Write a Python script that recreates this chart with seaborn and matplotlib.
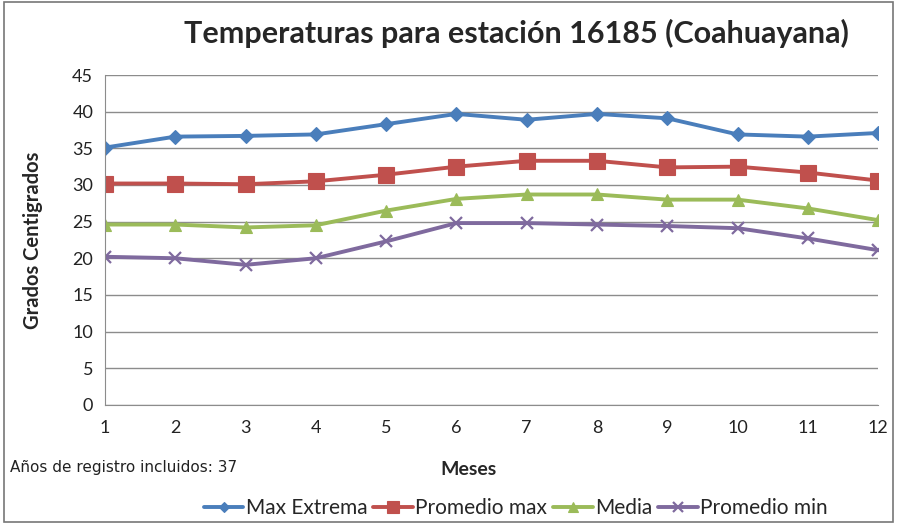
import matplotlib
matplotlib.use("Agg")
import matplotlib.pyplot as plt
import pandas as pd
import seaborn as sns
from matplotlib.patches import Rectangle

# monthly temperatures
meses = list(range(1, 13))
max_extrema = [35.1, 36.6, 36.7, 36.9, 38.3, 39.7, 38.9, 39.7, 39.1, 36.9, 36.6, 37.1]
promedio_max = [30.2, 30.2, 30.1, 30.5, 31.4, 32.5, 33.3, 33.3, 32.4, 32.5, 31.7, 30.6]
media = [24.6, 24.6, 24.2, 24.5, 26.5, 28.1, 28.7, 28.7, 28.0, 28.0, 26.8, 25.2]
promedio_min = [20.2, 20.0, 19.1, 20.0, 22.3, 24.8, 24.8, 24.6, 24.4, 24.1, 22.7, 21.1]

series = {
    'Max Extrema': (max_extrema, '#4A7EBB', 'D', 7),
    'Promedio max': (promedio_max, '#C0504D', 's', 11),
    'Media': (media, '#9BBB59', '^', 9),
    'Promedio min': (promedio_min, '#7F6A9E', 'x', 9),
}

if __name__ == '__main__':
    sns.set_style('white')
    plt.rcParams['font.family'] = ['Lato', 'DejaVu Sans']

    fig = plt.figure(figsize=(8.97, 5.25), dpi=100)
    ax = fig.add_axes([0.117, 0.229, 0.862, 0.628])

    # one line per series
    for name, (vals, color, marker, ms) in series.items():
        df = pd.DataFrame({'mes': meses, 'temp': vals})
        sns.lineplot(data=df, x='mes', y='temp', ax=ax, color=color,
                     marker=marker, markersize=ms, linewidth=2.8, label=name,
                     markeredgecolor=color, markeredgewidth=1.6 if marker == 'x' else 0.8)

    # axes limits, ticks and grid
    ax.set_xlim(1, 12)
    ax.set_ylim(0, 45)
    ax.set_xticks(meses)
    ax.set_yticks(range(0, 50, 5))
    ax.yaxis.grid(True, color='#8c8c8c', linewidth=1)
    ax.set_axisbelow(True)
    for side in ['top', 'right']:
        ax.spines[side].set_visible(False)
    for side in ['left', 'bottom']:
        ax.spines[side].set_color('#8c8c8c')
    ax.tick_params(axis='both', direction='out', length=5, color='#8c8c8c',
                   labelsize=13, labelcolor='#222222')
    ax.tick_params(axis='x', pad=6)

    # labels and title
    ax.set_xlabel('Meses', fontsize=14, fontweight='bold')
    ax.xaxis.set_label_coords(0.47, -0.17)
    ax.set_ylabel('Grados Centigrados', fontsize=14.5, fontweight='bold')
    ax.yaxis.set_label_coords(-0.08, 0.5)
    fig.text(0.576, 0.937, 'Temperaturas para estación 16185 (Coahuayana)',
             ha='center', va='center', fontsize=22, fontweight='bold')
    fig.text(0.011, 0.110, 'Años de registro incluidos: 37', fontsize=11,
             ha='left', va='center', family=['DejaVu Sans'], color='#222222')

    # legend along the bottom
    handles, labels = ax.get_legend_handles_labels()
    ax.get_legend().remove()
    fig.legend(handles, labels, loc='center', bbox_to_anchor=(0.575, 0.032),
               ncol=4, frameon=False, fontsize=15, handlelength=1.9,
               handletextpad=0.1, columnspacing=0.3, markerscale=0.75)

    # chart border
    fig.patches.append(Rectangle((0.004, 0.006), 0.992, 0.99, transform=fig.transFigure,
                                 fill=False, edgecolor='#777777', linewidth=1.2))

    plt.savefig('out.png', dpi=100, facecolor='white')
